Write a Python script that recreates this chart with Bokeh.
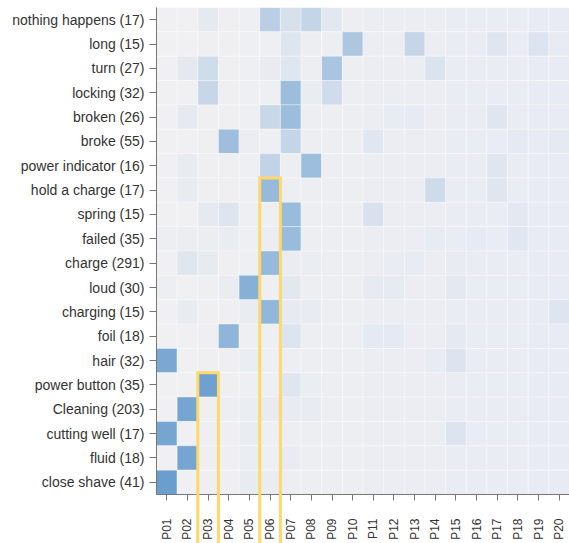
import numpy as np
from bokeh.plotting import figure
from bokeh.models import ColumnDataSource, FactorRange
from bokeh.embed import file_html
from bokeh.resources import INLINE

participants = ["P01", "P02", "P03", "P04", "P05", "P06", "P07", "P08", "P09", "P10",
                "P11", "P12", "P13", "P14", "P15", "P16", "P17", "P18", "P19", "P20"]

terms = ["nothing happens (17)", "long (15)", "turn (27)", "locking (32)", "broken (26)",
         "broke (55)", "power indicator (16)", "hold a charge (17)", "spring (15)",
         "failed (35)", "charge (291)", "loud (30)", "charging (15)", "foil (18)",
         "hair (32)", "power button (35)", "Cleaning (203)", "cutting well (17)",
         "fluid (18)", "close shave (41)"]

# relative intensity (0-100) per term, columns P01..P20
nothing_happens = [0, 0, 7, 0, 0, 39, 17, 32, 7, 0, 0, 0, 0, 0, 0, 0, 0, 0, 0, 0]
long_ = [0, 0, 0, 0, 0, 0, 12, 0, 0, 48, 0, 0, 29, 0, 0, 0, 8, 0, 10, 0]
turn = [0, 8, 24, 0, 0, 4, 10, 0, 51, 0, 0, 0, 0, 12, 0, 0, 0, 0, 0, 0]
locking = [0, 0, 30, 0, 0, 0, 62, 3, 22, 0, 0, 0, 0, 0, 0, 0, 0, 0, 0, 0]
broken = [0, 7, 0, 0, 0, 28, 61, 0, 0, 0, 0, 3, 3, 0, 0, 0, 8, 0, 0, 0]
broke = [0, 0, 0, 61, 2, 0, 32, 0, 0, 0, 8, 0, 0, 0, 0, 0, 0, 3, 0, 2]
power_indicator = [0, 6, 0, 0, 0, 34, 0, 60, 0, 0, 0, 0, 0, 0, 0, 0, 8, 0, 0, 0]
hold_a_charge = [0, 6, 0, 0, 0, 66, 0, 0, 0, 0, 0, 0, 0, 22, 0, 0, 7, 0, 0, 0]
spring = [0, 0, 7, 12, 0, 0, 64, 0, 0, 0, 15, 0, 0, 0, 0, 0, 0, 4, 0, 0]
failed = [3, 3, 3, 4, 0, 2, 64, 0, 0, 0, 0, 0, 0, 2, 0, 3, 0, 6, 0, 0]
charge = [0, 12, 6, 0, 0, 66, 3, 2, 0, 0, 0, 2, 2, 0, 2, 0, 0, 0, 0, 0]
loud = [3, 0, 0, 4, 78, 0, 8, 0, 0, 0, 4, 4, 0, 0, 5, 0, 0, 0, 0, 0]
charging = [0, 6, 0, 0, 4, 69, 5, 4, 0, 0, 0, 0, 0, 0, 0, 0, 0, 0, 0, 8]
foil = [0, 0, 0, 72, 0, 0, 13, 0, 0, 0, 5, 5, 0, 0, 4, 0, 0, 0, 0, 0]
hair = [88, 0, 0, 0, 3, 0, 0, 0, 0, 0, 0, 0, 0, 2, 10, 0, 0, 0, 0, 0]
power_button = [0, 0, 96, 0, 0, 0, 10, 2, 0, 0, 0, 0, 0, 0, 0, 0, 0, 0, 0, 0]
cleaning = [0, 91, 0, 2, 3, 4, 4, 4, 0, 0, 0, 0, 0, 0, 0, 0, 0, 0, 0, 0]
cutting_well = [91, 0, 0, 0, 4, 0, 0, 0, 0, 0, 0, 0, 0, 0, 10, 0, 0, 0, 0, 0]
fluid = [0, 91, 0, 0, 3, 0, 4, 0, 0, 0, 0, 0, 0, 0, 0, 0, 0, 0, 0, 0]
close_shave = [100, 0, 0, 0, 5, 3, 0, 0, 0, 0, 0, 0, 0, 0, 0, 0, 0, 0, 0, 0]

rows = [nothing_happens, long_, turn, locking, broken, broke, power_indicator,
        hold_a_charge, spring, failed, charge, loud, charging, foil, hair,
        power_button, cleaning, cutting_well, fluid, close_shave]

# highlighted columns: (participant, first term of the highlighted span)
highlight_cols = ["P06", "P03"]
highlight_from = ["hold a charge (17)", "power button (35)"]

# ---- styling ----
base_left = np.array([240, 240, 242])
base_right = np.array([232, 235, 243])
dark = np.array([106, 158, 207])


def cell_color(ci, v):
    t = ci / (len(participants) - 1)
    base = base_left * (1 - t) + base_right * t
    c = base * (1 - v / 100.0) + dark * (v / 100.0)
    return "#%02x%02x%02x" % tuple(int(round(k)) for k in c)


xs, ys, vals, cols = [], [], [], []
for ri, term in enumerate(terms):
    for ci, part in enumerate(participants):
        v = rows[ri][ci]
        xs.append(part)
        ys.append(term)
        vals.append(v)
        cols.append(cell_color(ci, v))

src = ColumnDataSource(dict(x=xs, y=ys, v=vals, color=cols))

y_factors = terms[::-1]
p = figure(width=569, height=543,
           x_range=FactorRange(factors=participants),
           y_range=FactorRange(factors=y_factors),
           output_backend="svg", toolbar_location=None,
           min_border_left=156, min_border_right=0, min_border_top=7,
           min_border_bottom=49)

p.rect(x="x", y="y", width=1, height=1, source=src, fill_color="color",
       line_color="white", line_alpha=0.35, line_width=1)

yellow = "#fdd86a"
bottom_y = -4
for hc, hr in zip(highlight_cols, highlight_from):
    ci = participants.index(hc)
    ri = y_factors.index(hr)
    x0, x1 = ci, ci + 1
    yt = ri + 1
    r = p.multi_line(xs=[[x0, x0, x1, x1]], ys=[[bottom_y, yt, yt, bottom_y]],
                     line_color=yellow, line_width=3, line_join="miter")
    r.level = "overlay"

p.grid.visible = False
p.outline_line_color = None
p.background_fill_color = "white"
p.border_fill_color = "white"

ax_col = "#777777"
for ax in (p.xaxis, p.yaxis):
    ax.axis_line_color = ax_col
    ax.major_tick_line_color = ax_col
    ax.major_tick_in = 0
    ax.minor_tick_line_color = None
    ax.major_label_text_color = "#333333"
    ax.major_label_text_font = "Liberation Sans"

p.yaxis.major_tick_out = 7
p.yaxis.major_label_standoff = 5
p.yaxis.major_label_text_font_size = "14px"

p.xaxis.major_tick_out = 6
p.xaxis.major_label_standoff = 18
p.xaxis.major_label_orientation = np.pi / 2
p.xaxis.major_label_text_font_size = "12px"

open("out.html", "w").write(file_html(p, INLINE))
